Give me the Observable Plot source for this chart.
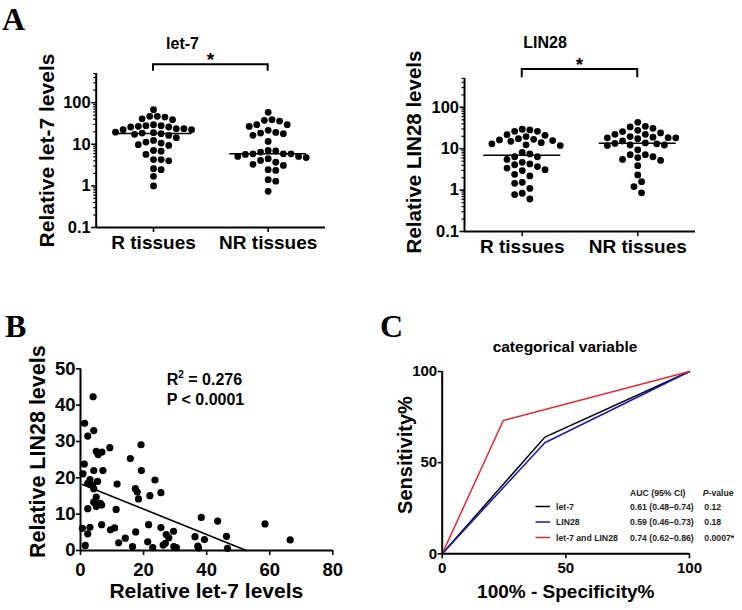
<!DOCTYPE html>
<html><head><meta charset="utf-8">
<script src="https://cdn.jsdelivr.net/npm/d3@7"></script>
<script src="https://cdn.jsdelivr.net/npm/@observablehq/plot@0.6"></script>
<style>
body{margin:0;background:#fff;}
#fig{position:relative;width:742px;height:610px;overflow:hidden;background:#fff;}
#fig svg{position:absolute;left:0;top:0;}
</style></head><body><div id="fig"></div>
<script>
// ---------- DATA ----------
const groups = ["R tissues", "NR tissues"];
const let7R = [68, 47, 45, 39, 41, 47, 29.5, 28, 26, 23.7, 22.4, 22.4, 23.7, 26, 27, 28, 18.6, 16.3, 17.9, 19.0, 17.4, 19.5, 10.7, 9.8, 12.4, 14.4, 9.4, 11.3, 6.8, 7.1, 5.7, 4.3, 4.0, 4.3, 2.45, 2.6, 1.7, 1.0];
const let7NR = [58.5, 29.6, 37.6, 26.9, 36.2, 29.6, 39, 18.6, 16.4, 21.6, 18, 19.3, 11.7, 6.5, 5.9, 5.7, 5.1, 6.9, 7.1, 4.8, 5.1, 5.9, 5.9, 3.7, 3.3, 4.1, 4.5, 3.1, 2.36, 2.45, 1.41, 1.3, 0.74];
const lin28R = [29.5, 26.3, 21.9, 19.6, 21.1, 26.3, 28.5, 16.9, 15.7, 14.0, 12.4, 11.9, 13.1, 15.1, 16.3, 17.5, 7.5, 6.4, 6.4, 8.2, 5.5, 4.7, 3.4, 4.1, 2.96, 3.7, 4.3, 3.1, 2.2, 2.4, 1.46, 1.1, 1.54, 0.84, 0.61, 0.78];
const lin28NR = [43.5, 34.8, 31.1, 27.8, 33.7, 25.9, 22.3, 22.3, 24.1, 19.6, 18.5, 18.3, 18.3, 19, 17.5, 11.9, 13.1, 12.3, 12.3, 13.8, 13.4, 15.4, 6.4, 5.5, 7.2, 7.2, 5.2, 9.4, 6.1, 3.9, 2.33, 1.6, 1.22, 0.86];
const logTicks = [0.1, 1, 10, 100];
const logMinorTicks = [0.2,0.3,0.4,0.5,0.6,0.7,0.8,0.9,2,3,4,5,6,7,8,9,20,30,40,50,60,70,80,90,200,300,400,500];

const corrLet7 = [4.0,1.3,4.2,2.3,9.3,19.2,5.0,5.6,6.8,15.8,1.2,0.8,4.2,7.1,19.3,3.0,5.4,23.6,11.6,3.8,2.3,4.2,17.4,18.0,25.5,22.0,18.4,5.0,4.2,5.3,6.3,5.0,6.7,2.3,11.3,6.7,21.6,38.3,43.5,58.5,0.6,3.0,9.5,10.8,17.5,25.5,29.5,2.3,27.2,28.0,14.2,12.1,21.3,36.3,39.3,46.3,66.5,1.5,16.5,22.9,26.2,26.9,29.6,30.4,37.2,37.4,46.6];
const corrLin28 = [42.3,35.0,33.0,31.5,28.3,29.1,27.3,26.4,27.1,25.3,23.8,21.1,22.0,22.0,22.0,19.5,19.0,19.4,18.3,18.0,18.5,17.0,17.0,16.1,15.9,15.1,14.2,14.7,13.3,12.7,13.0,12.1,12.5,11.5,11.3,7.1,7.1,9.1,8.1,7.3,6.1,6.4,5.7,6.2,5.1,6.3,5.3,4.6,4.4,3.5,3.4,2.1,2.4,3.8,3.0,3.9,2.9,1.4,1.1,0.8,1.5,2.0,1.1,0.8,1.2,0.7,0.6];
const fitIntercept = 18.4;
const fitSlope = -0.35;
const corrXTicks = [0, 20, 40, 60, 80];
const corrYTicks = [0, 10, 20, 30, 40, 50];
const r2Value = "0.276";
const pText = "P < 0.0001";

const rocSeries = ["let-7", "LIN28", "let-7 and LIN28"];
const rocColors = ["#000000", "#1a1ab4", "#e8262a"];
const rocFpr = [[0, 41.5, 100], [0, 41.5, 100], [0, 24.7, 100]];
const rocSens = [[0, 64.0, 100], [0, 60.9, 100], [0, 73.1, 100]];
const rocAuc = ["0.61 (0.48\u20130.74)", "0.59 (0.46\u20130.73)", "0.74 (0.62\u20130.86)"];
const rocP = ["0.12", "0.18", "0.0007*"];
const rocTicks = [0, 50, 100];

// ---------- HELPERS ----------
const W = 742, H = 610;
const FONT = "'Liberation Sans', Arial, Helvetica, sans-serif";
const fig = document.getElementById("fig");
const baseStyle = {background: "transparent", fontFamily: FONT, fontWeight: "bold", overflow: "visible", color: "black"};

function swarm(values, pxPerDecade, pxPerUnit, diam) {
  const pts = values.map((v, i) => ({v, i, y: -Math.log10(v) * pxPerDecade, x: 0}));
  const order = pts.slice().sort((a, b) => a.y - b.y || a.i - b.i);
  const placed = [];
  const step = diam / 2;
  for (const p of order) {
    const near = placed.filter(q => Math.abs(q.y - p.y) < diam);
    const bal = d3.sum(near, q => q.x);
    const free = c => near.every(q => Math.hypot(q.x - c, q.y - p.y) >= diam - 1e-6);
    let chosen = 0;
    for (let k = 0; k < 80; k++) {
      const cands = k === 0 ? [0] : (bal > 0 ? [-k * step, k * step] : [k * step, -k * step]);
      const c = cands.find(free);
      if (c !== undefined) { chosen = c; break; }
    }
    p.x = chosen; placed.push(p);
  }
  return pts.map(p => ({value: p.v, off: p.x / pxPerUnit}));
}

function dotPanel(R, NR, m) {
  const pxPerUnit = (W - m.left - m.right) / 2;
  const pxPerDecade = (H - m.top - m.bottom) / Math.log10(500 / 0.1);
  const pts = [];
  [R, NR].forEach((vals, gi) => swarm(vals, pxPerDecade, pxPerUnit, 7.6)
    .forEach(p => pts.push({x: gi + p.off, y: p.value})));
  const meds = [R, NR].map((v, gi) => ({g: gi, m: d3.median(v)}));
  const half = 38.5 / pxPerUnit;
  return Plot.plot({
    width: W, height: H,
    marginLeft: m.left, marginRight: m.right, marginTop: m.top, marginBottom: m.bottom,
    x: {type: "linear", domain: [-0.5, 1.5]},
    y: {type: "log", domain: [0.1, 500]},
    style: baseStyle,
    marks: [
      Plot.axisY({ticks: logMinorTicks, tickSize: 2.5, tickFormat: () => "", strokeWidth: 1.2, label: null}),
      Plot.axisY({ticks: logTicks, tickSize: 4.5, tickPadding: 1, tickFormat: d => String(d), fontSize: 16.5, strokeWidth: 1.6, label: null}),
      Plot.axisX({ticks: [0, 1], tickSize: 5, tickPadding: 3, tickFormat: i => groups[i], fontSize: 19, strokeWidth: 1.6, label: null}),
      Plot.ruleX([-0.5], {strokeWidth: 2}),
      Plot.ruleY([0.1], {strokeWidth: 2}),
      Plot.dot(pts, {x: "x", y: "y", r: 3.4, fill: "black", stroke: "none"}),
      Plot.ruleY(meds, {y: "m", x1: d => d.g - half, x2: d => d.g + half, strokeWidth: 1.5})
    ]
  });
}

// ---------- PANEL A ----------
const pA1 = dotPanel(let7R, let7NR, {left: 95.7, right: W - 325, top: 73.1, bottom: H - 227});
const pA2 = dotPanel(lin28R, lin28NR, {left: 464, right: W - 695, top: 77.9, bottom: H - 231});
fig.appendChild(pA1); fig.appendChild(pA2);

// ---------- PANEL B ----------
const corrPts = corrLet7.map((x, i) => ({x, y: corrLin28[i]}));
const fitX0 = d3.min(corrLet7), fitX1 = -fitIntercept / fitSlope;
const fitLine = [fitX0, fitX1].map(x => ({x, y: fitIntercept + fitSlope * x}));
const pB = Plot.plot({
  width: W, height: H,
  marginLeft: 80, marginRight: W - 332.3, marginTop: 368.3, marginBottom: H - 550,
  x: {domain: [0, 80]}, y: {domain: [0, 50]},
  style: baseStyle,
  marks: [
    Plot.axisX({ticks: corrXTicks, tickSize: 5, tickPadding: 7, fontSize: 18.5, strokeWidth: 1.6, label: null}),
    Plot.axisY({ticks: corrYTicks, tickSize: 4, tickPadding: 1, fontSize: 18.5, strokeWidth: 1.6, label: null}),
    Plot.ruleX([0], {strokeWidth: 2}),
    Plot.ruleY([0], {strokeWidth: 2}),
    Plot.dot(corrPts, {x: "x", y: "y", r: 3.6, fill: "black", stroke: "none"}),
    Plot.line(fitLine, {x: "x", y: "y", strokeWidth: 1.6, stroke: "black"})
  ]
});
fig.appendChild(pB);

// ---------- PANEL C ----------
const rocData = [];
rocSeries.forEach((s, si) => rocFpr[si].forEach((f, k) => rocData.push({series: s, fpr: f, sens: rocSens[si][k]})));
const pC = Plot.plot({
  width: W, height: H,
  marginLeft: 441.7, marginRight: W - 689, marginTop: 371, marginBottom: H - 553.3,
  x: {domain: [0, 100]}, y: {domain: [0, 100]},
  color: {domain: rocSeries, range: rocColors},
  style: baseStyle,
  marks: [
    Plot.axisX({ticks: rocTicks, tickSize: 5, tickPadding: 4, fontSize: 15, strokeWidth: 1.6, label: null}),
    Plot.axisY({ticks: rocTicks, tickSize: 4, tickPadding: 1, fontSize: 15, strokeWidth: 1.6, label: null}),
    Plot.line(rocData, {x: "fpr", y: "sens", z: "series", stroke: "series", strokeWidth: 1.5}),
    Plot.ruleX([0], {strokeWidth: 2}),
    Plot.ruleY([0], {strokeWidth: 2})
  ]
});
fig.appendChild(pC);

// ---------- OVERLAY TEXT / ANNOTATIONS ----------
const ov = d3.select(fig).append("svg").attr("width", W).attr("height", H)
  .style("pointer-events", "none").attr("font-family", FONT).attr("font-weight", "bold");

// panel letters
[["A", 2, 29.5], ["B", 5, 337], ["C", 380, 337]].forEach(([t, x, y]) =>
  ov.append("text").attr("x", x).attr("y", y).attr("font-family", "'Liberation Serif', 'Times New Roman', serif")
    .attr("font-size", 32).attr("font-weight", "bold").text(t));

function txt(t, x, y, size, opts = {}) {
  const e = ov.append("text").attr("x", x).attr("y", y).attr("font-size", size)
    .attr("text-anchor", opts.anchor || "middle").text(t);
  if (opts.rotate) e.attr("transform", `rotate(-90 ${x} ${y})`);
  if (opts.weight) e.attr("font-weight", opts.weight);
  return e;
}

// titles
txt("let-7", 182.5, 48.5, 16);
txt("LIN28", 545, 48.3, 16);
txt("Relative let-7 levels", 54.4, 150.5, 21, {rotate: true});
txt("Relative LIN28 levels", 420.5, 152, 20.5, {rotate: true});

// significance brackets using the panels' x scales
function bracket(plot, yTop, yLeg, starBase) {
  const sx = plot.scale("x");
  const x0 = sx.apply(0), x1 = sx.apply(1);
  ov.append("path").attr("d", `M${x0},${yLeg}V${yTop}H${x1}V${yLeg}`)
    .attr("fill", "none").attr("stroke", "black").attr("stroke-width", 2);
  txt("*", (x0 + x1) / 2, starBase, 19);
}
bracket(pA1, 64.3, 70.7, 65.5);
bracket(pA2, 69, 77.3, 70.8);

// panel B texts
txt("Relative LIN28 levels", 44.6, 451.7, 21.5, {rotate: true});
txt("Relative let-7 levels", 206.3, 598, 21);
const r2 = ov.append("text").attr("x", 166.7).attr("y", 385).attr("font-size", 16);
r2.append("tspan").text("R");
r2.append("tspan").attr("font-size", 10).attr("dy", -7).text("2");
r2.append("tspan").attr("dy", 7).text(" = " + r2Value);
txt(pText, 166.7, 405, 16, {anchor: "start"});

// panel C texts
txt("categorical variable", 565, 352.3, 15.5);
txt("Sensitivity%", 411.9, 455, 20, {rotate: true});
txt("100% - Specificity%", 565.8, 598.3, 19);

// legend
const legY = [506.5, 522, 537.5];
const lg = ov.append("g").attr("font-weight", "bold").attr("font-size", 8.7).attr("fill", "#222");
lg.append("text").attr("x", 630).attr("y", 495.5).text("AUC (95% CI)");
const pv = lg.append("text").attr("x", 702.7).attr("y", 495.5);
pv.append("tspan").attr("font-style", "italic").text("P");
pv.append("tspan").text("-value");
rocSeries.forEach((s, i) => {
  lg.append("line").attr("x1", 535.5).attr("x2", 550).attr("y1", legY[i]).attr("y2", legY[i])
    .attr("stroke", rocColors[i]).attr("stroke-width", 1.5);
  lg.append("text").attr("x", 556).attr("y", legY[i] + 3.2).text(s);
  lg.append("text").attr("x", 630).attr("y", legY[i] + 3.2).text(rocAuc[i]);
  lg.append("text").attr("x", 704.3).attr("y", legY[i] + 3.2).text(rocP[i]);
});
</script>
</body></html>
